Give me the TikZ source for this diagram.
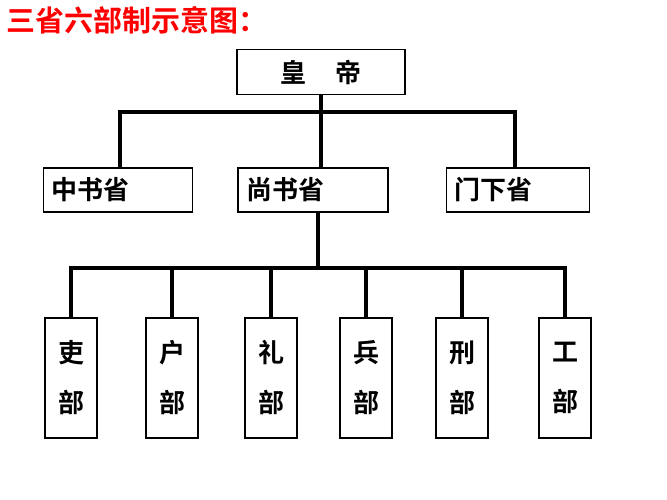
\documentclass[tikz,border=0pt]{standalone}
\usepackage{fontspec}
\newfontfamily\cjk{Noto Sans CJK SC Bold}
\begin{document}
\begin{tikzpicture}[x=1pt,y=-1pt,
  box/.style={draw=black,line width=1.3pt,fill=white,inner sep=0pt,font=\cjk\fontsize{26}{28}\selectfont},
  vbox/.style={draw=black,line width=1.3pt,fill=white,minimum width=52pt,minimum height=120pt,inner sep=0pt,font=\cjk\fontsize{26}{50}\selectfont,align=center},
  conn/.style={line width=3.5pt}]
\useasboundingbox (0,0) rectangle (667,500);
\node[anchor=west,text=red,font=\cjk\fontsize{29}{31}\selectfont] (title) at (3,20) {三省六部制示意图：};
\node[box,minimum width=168pt,minimum height=45pt] (hd) at (321,72) {皇\hspace{1.1em}帝};
\node[box,minimum width=149pt,minimum height=44pt,anchor=west,text width=133pt,align=left] (zs) at (43,190) {中书省};
\node[box,minimum width=150pt,minimum height=44pt,text width=134pt,align=left] (ss) at (313,190) {尚书省};
\node[box,minimum width=143pt,minimum height=44pt,text width=127pt,align=left] (mx) at (518,190) {门下省};
\coordinate (h1) at (321,112);
\coordinate (h2) at (318,268);
\draw[conn] (hd.south) -- (h1);
\draw[conn] (zs.north -| 120,0) |- (h1) -| (mx.north -| 515,0);
\draw[conn] (h1) -- (ss.north -| 321,0);
\draw[conn] (ss.south -| 318,0) -- (h2);
\foreach \n/\x/\c in {a/71/吏,b/172/户,c/271/礼,d/366/兵,e/462/刑,f/565/工}{
  \node[vbox] (\n) at (\x,378) {\c\\部};
}
\draw[conn] (a.north) |- (h2) -| (f.north);
\foreach \n in {b,c,d,e}{\draw[conn] (\n.north) -- (\n.north |- h2);}
\end{tikzpicture}
\end{document}
